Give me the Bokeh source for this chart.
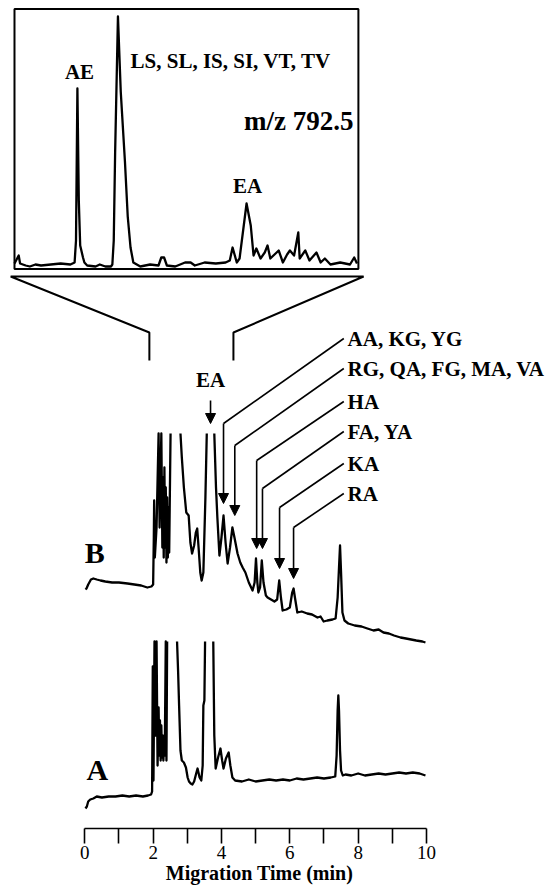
import numpy as np
from bokeh.plotting import figure
from bokeh.models import Range1d, FixedTicker, Arrow, NormalHead, ColumnDataSource
from bokeh.core.properties import value
from bokeh.embed import file_html
from bokeh.resources import INLINE

nan = float("nan")

# ---------------- data (migration time in min, signal in arbitrary units) ----------------
# Electropherogram A (signal above its own baseline; 154 = off-scale top, nan = off-scale gap)
A_TIME = [0.02, 0.06, 0.10, 0.16, 0.25, 0.35, 0.50, 0.70, 0.90, 1.10, 1.30, 1.50, 1.70, 1.85,
          1.94, 1.97, 1.99, 2.01, 2.04, 2.07, 2.10, 2.13, 2.16, 2.18, 2.20, 2.22, 2.24, 2.26,
          2.28, 2.30, 2.32, 2.34, 2.37, 2.39, 2.41, 2.55, 2.70, 2.73, 2.76, 2.80, 2.84, 2.90,
          2.96, 3.01, 3.05, 3.10, 3.15, 3.20, 3.26, 3.30, 3.36, 3.41, 3.45, 3.47, 3.50, 3.52,
          3.65, 3.76, 3.79, 3.83, 3.90, 3.97, 4.02, 4.06, 4.13, 4.21, 4.26, 4.32, 4.40, 4.60,
          4.80, 5.00, 5.20, 5.40, 5.60, 5.80, 6.00, 6.20, 6.40, 6.60, 6.80, 7.00, 7.20, 7.33,
          7.37, 7.40, 7.42, 7.44, 7.47, 7.50, 7.55, 7.63, 7.80, 8.00, 8.20, 8.40, 8.60, 8.80,
          9.00, 9.20, 9.40, 9.60, 9.80, 9.97]
A_SIGNAL = [-13, -11, -6, -4, -3, -1, -2, -1, -1, 0, -1, 0, -1, 0,
            1, 4, 129, 15, 154, 60, 154, 30, 88, 40, 75, 35, 70, 38,
            60, 35, 55, 40, 154, 35, 154, nan, 154, 125, 90, 45, 35, 33,
            28, 18, 14, 12, 11, 14, 22, 27, 18, 15, 30, 90, 95, 154,
            nan, 154, 60, 27, 38, 47, 35, 27, 37, 43, 30, 18, 15, 14,
            16, 14, 15, 16, 15, 16, 15, 17, 16, 17, 18, 17, 18, 19,
            40, 85, 100, 85, 45, 25, 20, 21, 20, 22, 20, 21, 22, 21,
            22, 23, 22, 23, 22, 20]

# Electropherogram B
B_TIME = [0.02, 0.05, 0.10, 0.18, 0.25, 0.35, 0.46, 0.60, 0.80, 1.00, 1.25, 1.45, 1.65, 1.83,
          1.95, 2.00, 2.02, 2.03, 2.05, 2.10, 2.16, 2.19, 2.24, 2.27, 2.29, 2.31, 2.33, 2.35,
          2.37, 2.39, 2.41, 2.43, 2.45, 2.47, 2.51, 2.65, 2.80, 2.84, 2.90, 2.97, 3.04, 3.09,
          3.14, 3.20, 3.25, 3.29, 3.33, 3.38, 3.42, 3.47, 3.53, 3.57, 3.68, 3.79, 3.84, 3.88,
          3.94, 4.00, 4.06, 4.12, 4.18, 4.25, 4.32, 4.38, 4.47, 4.55, 4.62, 4.70, 4.80, 4.91,
          4.97, 5.01, 5.05, 5.08, 5.13, 5.18, 5.23, 5.30, 5.35, 5.45, 5.55, 5.63, 5.69, 5.74,
          5.79, 5.90, 6.00, 6.07, 6.11, 6.15, 6.22, 6.35, 6.51, 6.65, 6.81, 6.90, 6.99, 7.10,
          7.25, 7.34, 7.40, 7.44, 7.47, 7.50, 7.54, 7.60, 7.71, 7.90, 8.10, 8.27, 8.45, 8.60,
          8.74, 8.90, 9.05, 9.24, 9.40, 9.55, 9.70, 9.88, 9.97]
B_SIGNAL = [-2, -1, 3, 8, 9, 8, 7, 6, 5, 5, 4, 3, 2, 0,
            1, 3, 50, 87, 30, 60, 154, 60, 154, 40, 110, 30, 120, 40,
            100, 25, 90, 30, 80, 35, 154, nan, 154, 130, 100, 75, 72, 45,
            34, 42, 55, 59, 40, 15, 7, 15, 90, 154, nan, 154, 100, 70,
            32, 50, 72, 45, 24, 40, 60, 50, 34, 25, 20, 15, 5, -3,
            5, 29, 5, -5, 0, 27, 5, -8, -10, -12, -14, -12, 7, -10,
            -23, -22, -20, -5, -1, -10, -25, -24, -26, -27, -30, -29, -34, -33,
            -32, -31, -10, 20, 42, 15, -25, -33, -36, -38, -39, -41, -43, -42,
            -45, -46, -48, -50, -51, -52, -53, -54, -55]

# Inset: m/z 792.5 extracted trace (relative intensity, %)
INSET_TIME = [1.89, 1.92, 1.93, 1.97, 2.00, 2.04, 2.08, 2.15, 2.22, 2.29, 2.32, 2.33, 2.34, 2.35,
              2.36, 2.38, 2.39, 2.41, 2.47, 2.50, 2.54, 2.58, 2.59, 2.60, 2.61, 2.63, 2.65, 2.68,
              2.70, 2.72, 2.74, 2.79, 2.86, 2.92, 2.94, 2.96, 2.98, 3.04, 3.11, 3.15, 3.18, 3.25,
              3.33, 3.40, 3.43, 3.45, 3.48, 3.50, 3.53, 3.55, 3.58, 3.60, 3.62, 3.65, 3.68, 3.70,
              3.72, 3.75, 3.78, 3.81, 3.84, 3.86, 3.89, 3.92, 3.93, 3.97, 4.00, 4.05, 4.08, 4.11,
              4.15, 4.22, 4.29, 4.32, 4.34]
INSET_SIGNAL = [1.2, 4.4, 1.2, 0.4, 0.0, 0.8, 0.4, 0.8, 1.2, 0.8, 1.6, 10.4, 71.2, 26.4,
                8.4, 3.6, 1.6, 0.4, 0.0, 0.8, 0.0, 0.0, 0.8, 10.4, 46.0, 100.0, 70.0, 42.0,
                20.0, 7.6, 1.6, 0.0, 0.8, 0.4, 3.6, 3.6, 0.4, 0.0, 1.6, 1.6, 0.4, 1.6,
                1.2, 1.6, 2.4, 7.6, 1.6, 3.2, 16.4, 25.2, 16.4, 4.4, 7.2, 3.2, 5.6, 8.4,
                3.2, 4.8, 6.4, 1.6, 4.8, 6.4, 4.4, 13.6, 3.2, 6.4, 2.4, 5.6, 1.6, 3.2,
                0.8, 1.6, 0.8, 3.6, 1.2]

# Peak assignments in trace B
PEPTIDE_LABELS = ["AA, KG, YG", "RG, QA, FG, MA, VA", "HA", "FA, YA", "KA", "RA"]
PEPTIDE_TIME = [4.06, 4.39, 5.03, 5.20, 5.70, 6.11]
EA_TIME = 3.68

TICKS = [0, 2, 4, 6, 8, 10]
MINOR_TICKS = [1, 3, 5, 7, 9]
ZOOM_WINDOW = (1.89, 4.35)
X_TITLE = "Migration Time (min)"

# ---------------- layout / style constants ----------------
FONT = "Liberation Serif"
OFFSET_A = 33          # vertical offset of trace A
OFFSET_B = 241         # vertical offset of trace B
ARROW_TIP = [84, 72, 39, 39, 19, 9]          # in B signal units
ARROW_TOP = [164, 142, 127, 99, 80, 60]
LABEL_LEVEL = [249, 219, 186, 156, 124, 94]
LEADER_END_T = 7.58
LABEL_T = 7.69
TRACE_W = 2.3

p = figure(width=548, height=888, x_range=Range1d(-2.467, 13.571), y_range=Range1d(0, 828),
           output_backend="svg", toolbar_location=None, y_axis_location=None,
           min_border_left=0, min_border_right=0, min_border_top=0, min_border_bottom=60,
           outline_line_color=None, background_fill_color="white")
p.grid.visible = False
p.extra_x_ranges = {"inset_x": Range1d(1.7899, 5.7098)}
p.extra_y_ranges = {"inset_y": Range1d(-224.8, 106.4)}

# axis
ax = p.xaxis[0]
ax.ticker = FixedTicker(ticks=TICKS, minor_ticks=MINOR_TICKS)
ax.bounds = (0, 10)
ax.axis_line_width = 1.6
ax.axis_line_color = "black"
ax.major_tick_in = 0
ax.major_tick_out = 15
ax.minor_tick_in = 0
ax.minor_tick_out = 15
ax.major_tick_line_width = 1.6
ax.minor_tick_line_width = 1.6
ax.major_tick_line_color = "black"
ax.minor_tick_line_color = "black"
ax.major_label_text_font = FONT
ax.major_label_text_font_size = "19px"
ax.major_label_text_color = "black"
ax.major_label_standoff = 2
# trailing no-break spaces shift the centred title slightly left, as in the original
ax.axis_label = X_TITLE + "\u00a0" * 6
ax.axis_label_text_font = FONT
ax.axis_label_text_font_style = "bold"
ax.axis_label_text_font_size = "20px"
ax.axis_label_text_color = "black"
ax.axis_label_standoff = 0

# traces
p.line(A_TIME, np.array(A_SIGNAL, dtype=float) + OFFSET_A, line_color="black",
       line_width=TRACE_W, line_join="round")
p.line(B_TIME, np.array(B_SIGNAL, dtype=float) + OFFSET_B, line_color="black",
       line_width=TRACE_W, line_join="round")

# trace letters
tf = value(FONT)
p.text(x=[0.37], y=[OFFSET_A + 26], text=["A"], text_font=tf, text_font_style="bold",
       text_font_size="30px", text_align="center", text_baseline="middle", text_color="black")
p.text(x=[0.29], y=[OFFSET_B + 35], text=["B"], text_font=tf, text_font_style="bold",
       text_font_size="30px", text_align="center", text_baseline="middle", text_color="black")

# EA arrow and label
p.add_layout(Arrow(end=NormalHead(size=10, fill_color="black", line_color="black", line_width=1),
                   x_start=EA_TIME, y_start=OFFSET_B + 187, x_end=EA_TIME,
                   y_end=OFFSET_B + 164, line_width=1.6, line_color="black"))
p.text(x=[EA_TIME], y=[OFFSET_B + 208], text=["EA"], text_font=tf, text_font_style="bold",
       text_font_size="21px", text_align="center", text_baseline="middle", text_color="black")

# peptide arrows, leaders and labels
arr_src = ColumnDataSource(dict(x0=PEPTIDE_TIME, y0=[OFFSET_B + v for v in ARROW_TOP],
                                x1=PEPTIDE_TIME, y1=[OFFSET_B + v for v in ARROW_TIP]))
p.add_layout(Arrow(end=NormalHead(size=10, fill_color="black", line_color="black", line_width=1),
                   x_start="x0", y_start="y0", x_end="x1", y_end="y1", source=arr_src,
                   line_width=1.6, line_color="black"))
p.segment(x0=PEPTIDE_TIME, y0=[OFFSET_B + v for v in ARROW_TOP],
          x1=[LEADER_END_T] * len(PEPTIDE_TIME), y1=[OFFSET_B + v for v in LABEL_LEVEL],
          line_color="black", line_width=1.6)
p.text(x=[LABEL_T] * len(PEPTIDE_LABELS), y=[OFFSET_B + v for v in LABEL_LEVEL],
       text=PEPTIDE_LABELS, text_font=tf, text_font_style="bold", text_font_size="21px",
       text_align="left", text_baseline="middle", text_color="black")

# zoom connector (main coordinates)
t0, t1 = ZOOM_WINDOW
p.line([t0, t0, -2.17, 8.16, t1, t1], [468, 496, 552, 552, 496, 468],
       line_color="black", line_width=2)

# inset box and trace (inset coordinates)
p.quad(left=[t0], right=[t1], bottom=[-1], top=[103], fill_color=None, line_color="black",
       line_width=2, x_range_name="inset_x", y_range_name="inset_y")
p.line(INSET_TIME, INSET_SIGNAL, line_color="black", line_width=TRACE_W, line_join="round",
       x_range_name="inset_x", y_range_name="inset_y")
p.text(x=[2.355], y=[78], text=["AE"], text_font=tf, text_font_style="bold",
       text_font_size="21px", text_align="center", text_baseline="middle", text_color="black",
       x_range_name="inset_x", y_range_name="inset_y")
p.text(x=[2.72], y=[82.4], text=["LS, SL, IS, SI, VT, TV"], text_font=tf,
       text_font_style="bold", text_font_size="21px", text_align="left",
       text_baseline="middle", text_color="black", x_range_name="inset_x", y_range_name="inset_y")
p.text(x=[4.315], y=[58.4], text=["m/z 792.5"], text_font=tf, text_font_style="bold",
       text_font_size="27px", text_align="right", text_baseline="middle", text_color="black",
       x_range_name="inset_x", y_range_name="inset_y")
p.text(x=[3.557], y=[32.4], text=["EA"], text_font=tf, text_font_style="bold",
       text_font_size="21px", text_align="center", text_baseline="middle", text_color="black",
       x_range_name="inset_x", y_range_name="inset_y")

open("out.html", "w").write(file_html(p, INLINE))
